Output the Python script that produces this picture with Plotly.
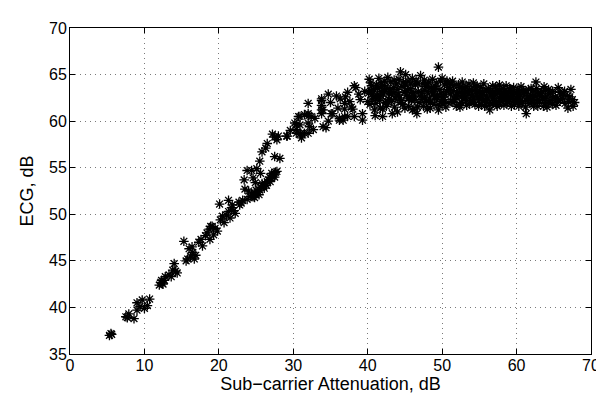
import plotly.graph_objects as go

# Rising part (sub-carrier attenuation dB, ECG dB)
att_rise = [5.3, 5.5, 5.6, 7.5, 7.9, 8.6, 7.7, 9.0, 9.0, 9.7, 10.0, 10.4, 10.7, 9.4,
            12.0, 12.2, 12.4, 12.7, 12.8, 12.5, 12.3, 13.3, 13.8, 14.0, 14.4, 14.2, 13.6,
            15.3, 16.0, 16.4, 15.8, 16.7, 16.9, 16.2, 15.6, 16.5,
            17.3, 17.8, 18.2, 18.8, 18.7, 19.1, 19.3, 19.8, 18.9, 17.6, 18.4, 19.5,
            20.2, 20.7, 21.5, 21.3, 22.0, 22.2, 21.8, 21.3, 20.1, 20.5, 21.0, 21.7,
            22.7, 22.8, 23.2, 23.8, 23.5, 24.4, 24.0, 23.4, 24.9, 23.8, 24.4, 25.6, 25.5, 23.0, 24.2, 24.6, 25.1,
            24.6, 24.9, 25.2, 25.5, 25.7, 26.0, 26.2, 26.5, 26.7, 27.0, 27.2, 27.4, 27.6, 27.8,
            25.0, 25.8, 26.4, 26.8, 27.1, 24.8, 25.4, 26.1, 26.9, 27.5]
ecg_rise = [37.0, 37.2, 37.1, 39.0, 39.3, 38.8, 38.9, 40.5, 39.7, 40.8, 39.9, 40.2, 40.9, 40.1,
            42.4, 42.7, 42.6, 42.9, 43.3, 42.5, 42.9, 43.5, 44.0, 44.7, 43.7, 43.9, 43.3,
            47.1, 46.3, 46.5, 45.2, 45.2, 45.6, 45.5, 45.0, 45.9,
            47.0, 46.6, 47.7, 47.3, 48.4, 48.7, 47.8, 48.2, 48.7, 47.3, 48.0, 48.5,
            49.4, 49.1, 49.6, 50.3, 50.4, 50.1, 51.0, 51.5, 51.1, 49.8, 49.9, 50.7,
            51.3, 51.0, 51.5, 51.6, 52.7, 52.2, 52.5, 53.7, 53.4, 54.7, 54.7, 54.4, 55.7, 51.2, 51.9, 53.9, 54.9,
            51.9, 52.2, 52.4, 52.6, 52.9, 53.0, 53.3, 53.5, 53.7, 53.9, 54.1, 54.3, 54.5, 54.6,
            52.6, 53.3, 53.1, 54.0, 54.4, 51.8, 52.1, 52.8, 53.5, 54.0]

# Knee part
att_knee = [25.8, 26.5, 27.5, 27.8, 29.2, 27.5, 28.2, 28.0, 29.1, 26.3, 27.2,
            30.9, 30.4, 30.2, 30.9, 31.5, 32.0, 32.4, 32.9, 32.0, 32.2, 32.7, 32.0, 31.5, 30.9,
            30.4, 31.1, 30.7, 30.4, 31.0, 32.1, 32.0, 29.6,
            33.8, 33.8, 33.8, 33.8, 34.0, 34.4, 34.7, 35.1, 36.2, 36.7, 37.3, 38.2, 39.3, 39.3,
            36.9, 37.8, 36.2, 36.9, 38.0, 36.9, 35.3, 34.7, 35.8, 33.8, 34.0, 37.3, 38.2, 38.4,
            35.0, 36.3, 37.0, 37.6, 38.8, 39.0, 39.6, 36.0]
ecg_knee = [56.7, 57.6, 58.3, 58.0, 58.4, 56.2, 56.0, 58.4, 58.4, 57.1, 58.6,
            59.6, 59.1, 59.8, 60.5, 60.7, 60.8, 60.5, 60.3, 59.8, 59.4, 59.1, 58.7, 58.7, 58.6,
            58.7, 58.2, 60.5, 59.6, 58.7, 60.6, 61.9, 59.0,
            62.2, 61.7, 61.2, 60.8, 59.4, 59.3, 60.0, 60.8, 60.3, 60.1, 60.5, 60.5, 60.1, 60.8,
            61.9, 61.5, 60.1, 60.5, 61.3, 61.3, 60.8, 62.9, 62.7, 62.4, 61.2, 63.1, 63.8, 63.6,
            62.0, 62.4, 62.6, 62.1, 62.9, 62.3, 63.2, 61.4]

# Saturated (flat) part
att_flat = [40.2, 40.5, 40.1, 40.7, 40.3, 40.9, 40.6, 40.4, 40.8, 40.0, 41.0,
            41.5, 41.2, 41.8, 41.4, 41.1, 41.7, 41.3, 41.9, 41.6, 42.0, 41.8,
            42.3, 42.6, 42.1, 42.8, 42.5, 42.2, 42.9, 42.7, 42.4, 42.0,
            43.3, 43.1, 43.5, 43.8, 43.2, 43.6, 43.9, 43.4, 43.7, 43.0,
            44.0, 44.4, 44.2, 44.6, 44.9, 44.3, 44.7, 44.1, 44.8, 44.5, 45.0,
            45.1, 45.4, 45.7, 45.2, 45.9, 45.5, 45.8, 45.3, 45.6, 46.0,
            46.0, 46.6, 46.2, 46.4, 46.8, 46.3, 46.9, 46.5, 46.7, 46.1,
            47.1, 47.4, 47.7, 47.2, 47.9, 47.5, 47.8, 47.3, 47.6, 48.0,
            48.2, 48.5, 48.8, 48.3, 48.9, 48.6, 48.1, 48.7, 48.4, 49.0,
            49.5, 49.5, 49.2, 49.7, 49.4, 49.9, 49.1, 49.8, 49.6, 49.3,
            50.0, 50.3, 50.6, 50.2, 50.8, 50.5, 50.9, 50.4, 50.7, 50.1,
            51.2, 51.5, 51.8, 51.3, 51.9, 51.6, 51.1, 51.7, 51.4, 52.0,
            52.2, 52.5, 52.8, 52.3, 52.9, 52.6, 52.1, 52.7, 52.4, 53.0,
            53.2, 53.5, 53.8, 53.3, 53.9, 53.6, 53.1, 53.7, 53.4, 54.0,
            54.2, 54.5, 54.8, 54.3, 54.9, 54.6, 54.1, 54.7, 54.4, 55.0,
            55.2, 55.5, 55.8, 55.3, 55.9, 55.6, 55.1, 55.7, 55.4, 56.0,
            56.4, 56.2, 56.6, 56.9, 56.3, 56.8, 56.5, 56.1, 56.7, 57.0,
            57.2, 57.5, 57.8, 57.3, 57.9, 57.6, 57.1, 57.7, 57.4, 58.0,
            58.2, 58.5, 58.8, 58.3, 58.9, 58.6, 58.1, 58.7, 58.4, 59.0,
            59.2, 59.5, 59.8, 59.3, 59.9, 59.6, 59.1, 59.7, 59.4, 60.0,
            60.2, 60.5, 60.8, 60.3, 60.9, 60.6, 60.1, 60.7, 60.4,
            61.3, 61.1, 61.5, 61.8, 61.2, 61.9, 61.6, 61.4, 62.0,
            62.2, 62.5, 62.8, 62.3, 62.9, 62.6, 62.1, 62.7, 62.4,
            63.2, 63.5, 63.8, 63.3, 63.9, 63.6, 63.1, 63.7,
            64.2, 64.5, 64.8, 64.3, 64.9, 64.6, 64.1,
            65.2, 65.5, 65.8, 65.3, 65.9, 65.6,
            66.2, 66.5, 66.8, 66.3, 67.0, 67.3, 67.6, 67.8, 66.9]
ecg_flat = [64.5, 63.8, 63.0, 62.4, 61.8, 61.2, 62.9, 64.1, 63.4, 62.1, 60.6,
            64.6, 63.9, 63.2, 62.6, 61.9, 61.4, 62.8, 63.7, 62.2, 60.5, 64.1,
            64.3, 63.5, 62.9, 62.3, 61.6, 63.8, 63.0, 64.7, 62.0, 61.3,
            60.8, 64.2, 63.6, 62.8, 62.1, 61.5, 64.0, 63.1, 62.4, 63.4,
            61.0, 65.3, 64.5, 63.7, 63.1, 62.5, 61.8, 62.9, 64.2, 62.2, 61.4,
            65.0, 64.3, 63.5, 62.8, 62.2, 61.6, 64.0, 63.3, 62.5, 61.2,
            64.6, 60.8, 61.3, 63.9, 63.2, 62.6, 62.0, 64.3, 61.5, 63.0,
            64.9, 64.0, 63.3, 62.7, 62.1, 61.6, 63.7, 62.3, 64.4, 61.3,
            64.2, 63.6, 62.9, 62.4, 61.8, 63.2, 63.0, 64.5, 61.4, 62.6,
            65.8, 61.2, 64.1, 63.4, 62.8, 62.1, 63.7, 64.3, 61.7, 62.3,
            64.6, 63.9, 63.2, 62.6, 62.0, 61.5, 63.6, 62.9, 64.1, 61.9,
            64.0, 63.3, 62.7, 62.1, 61.6, 63.8, 62.9, 62.3, 64.3, 62.5,
            63.9, 63.1, 62.4, 61.8, 63.5, 62.0, 62.8, 64.2, 61.5, 63.0,
            63.7, 62.9, 62.2, 61.7, 63.4, 64.0, 62.5, 61.9, 63.2, 62.7,
            64.1, 63.4, 62.6, 62.0, 61.6, 63.0, 62.8, 63.8, 61.8, 62.3,
            63.6, 62.9, 62.3, 61.8, 63.3, 64.0, 62.6, 61.6, 63.1, 62.0,
            61.2, 63.5, 62.8, 62.2, 61.7, 63.8, 63.2, 62.4, 61.9, 63.0,
            63.7, 63.0, 62.4, 61.8, 63.4, 62.1, 62.7, 63.9, 61.6, 62.9,
            63.5, 62.8, 62.1, 61.7, 63.1, 63.8, 62.4, 61.9, 63.2, 62.6,
            63.3, 62.6, 62.0, 61.6, 63.0, 63.6, 62.3, 61.8, 62.9, 62.5,
            63.4, 62.7, 62.1, 61.6, 63.0, 63.7, 62.4, 61.9, 62.9,
            60.8, 63.1, 62.5, 61.9, 61.5, 62.8, 63.4, 62.2, 62.0,
            63.3, 62.6, 62.0, 61.6, 62.9, 64.2, 62.3, 63.5, 61.9,
            63.0, 62.4, 61.9, 62.7, 63.3, 61.6, 62.2, 63.7,
            62.8, 62.2, 61.8, 63.4, 62.5, 63.0, 61.5,
            62.6, 62.0, 63.1, 61.7, 62.3, 63.6,
            62.4, 61.9, 62.7, 63.0, 62.1, 63.4, 61.6, 62.0, 61.4]

# Extra points filling the dense saturated cloud
att_fill = [40.45, 40.85, 41.35, 41.75, 42.25, 42.65, 43.15, 43.55, 44.05, 44.45,
            45.05, 45.45, 45.95, 46.35, 46.75, 47.25, 47.65, 48.05, 48.45, 48.95,
            49.35, 49.85, 50.25, 50.65, 51.05, 51.45, 51.95, 52.35, 52.75, 53.25,
            53.65, 54.15, 54.55, 55.05, 55.45, 55.95, 56.35, 56.85, 57.35, 57.75,
            58.25, 58.65, 59.05, 59.55, 60.05, 60.45, 60.95, 61.45, 61.95, 62.45,
            62.85, 63.35, 63.85, 64.35, 64.85, 65.45, 65.95, 66.45, 67.15, 67.5]
ecg_fill = [63.3, 62.6, 63.5, 62.7, 63.2, 62.1, 62.9, 64.4, 63.4, 62.0,
            63.9, 62.4, 63.1, 62.3, 64.0, 63.0, 62.5, 63.9, 62.0, 63.5,
            62.7, 63.0, 62.3, 64.3, 63.4, 62.0, 63.0, 63.6, 62.8, 62.2,
            63.3, 62.4, 63.7, 63.1, 62.2, 62.7, 63.1, 62.5, 63.3, 62.2,
            62.9, 62.3, 63.5, 62.1, 63.0, 62.2, 63.3, 62.7, 63.5, 62.8,
            61.6, 63.2, 62.5, 62.0, 63.2, 62.4, 62.8, 63.2, 62.6, 62.3]

x_ticks = [0, 10, 20, 30, 40, 50, 60, 70]
y_ticks = [35, 40, 45, 50, 55, 60, 65, 70]

att = att_rise + att_knee + att_flat + att_fill
ecg = ecg_rise + ecg_knee + ecg_flat + ecg_fill

fig = go.Figure()
fig.add_trace(go.Scatter(
    x=att, y=ecg, mode="markers",
    marker=dict(symbol="asterisk-open", size=8, color="black",
                line=dict(color="black", width=1.3)),
    showlegend=False,
))

font = dict(family="Liberation Sans, Arial, sans-serif", size=16, color="black")
axis_common = dict(
    showline=True, linecolor="black", linewidth=1, mirror="ticks",
    ticks="inside", ticklen=5, tickcolor="black",
    showgrid=True, gridcolor="#7a7a7a", griddash="1px,4px", gridwidth=1,
    zeroline=False, tickfont=font,
)
fig.update_xaxes(range=[0, 70], tickvals=x_ticks, ticklabelstandoff=-3,
                 title=dict(text="Sub\u2212carrier Attenuation, dB", font=dict(font, size=18), standoff=2),
                 **axis_common)
fig.update_yaxes(range=[35, 70], tickvals=y_ticks, ticklabelstandoff=-1,
                 title=dict(text="ECG, dB", font=dict(font, size=18), standoff=10),
                 **axis_common)
fig.update_layout(
    width=604, height=393,
    margin=dict(l=62, r=17, t=14, b=41),
    paper_bgcolor="white", plot_bgcolor="white",
    font=font,
)
fig.write_html("out.html")
